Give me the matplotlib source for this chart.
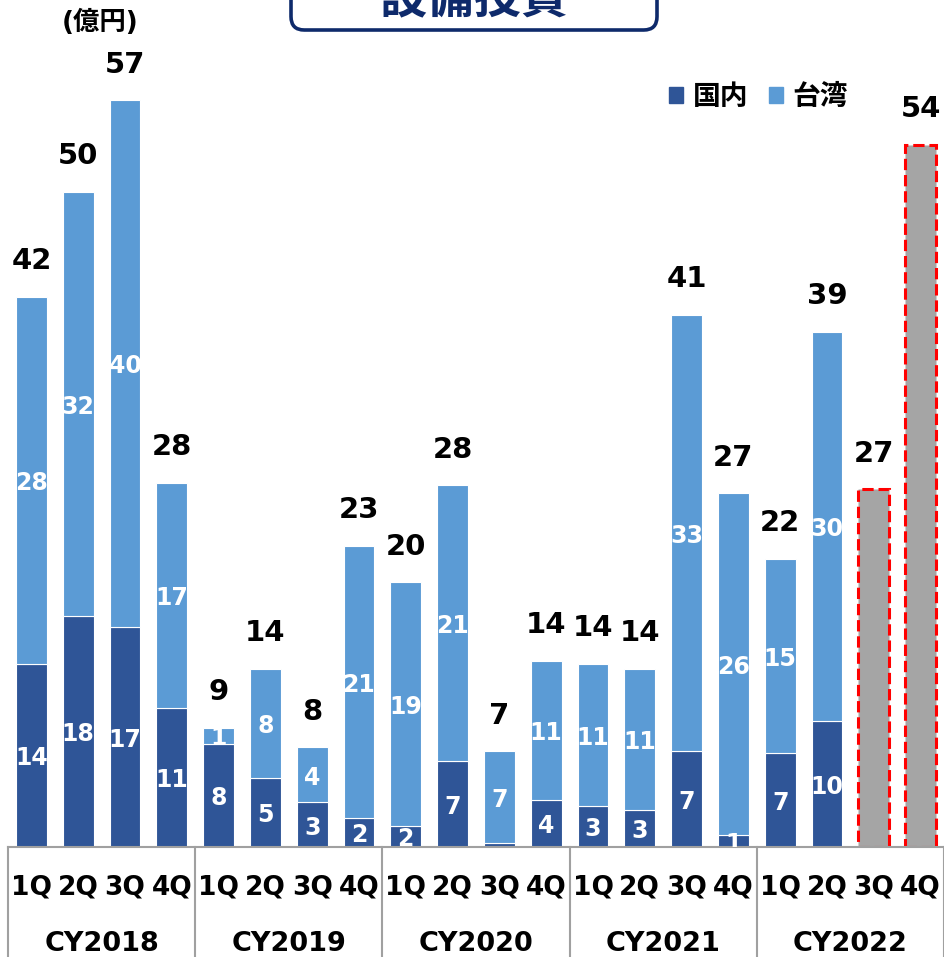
import matplotlib.pyplot as plt
from matplotlib.patches import FancyBboxPatch, Patch

plt.rcParams['font.family'] = ['DejaVu Sans', 'Noto Sans CJK JP']

# quarterly capex, 億円
quarters = ['1Q', '2Q', '3Q', '4Q'] * 5
years = ['CY2018', 'CY2019', 'CY2020', 'CY2021', 'CY2022']
domestic = [14.0, 17.6, 16.8, 10.6, 7.9, 5.3, 3.4, 2.2, 1.6, 6.6, 0.3, 3.6,
            3.1, 2.8, 7.3, 0.9, 7.2, 9.6]
taiwan = [28.0, 32.4, 40.2, 17.2, 1.2, 8.3, 4.2, 20.8, 18.6, 21.0, 7.0, 10.6,
          10.9, 10.8, 33.3, 26.1, 14.8, 29.7]
# 2022 3Q / 4Q plan (no split)
forecast = [27.3, 53.6]

DOM_COLOR = '#2F5597'
TW_COLOR = '#5B9BD5'
GRAY = '#A5A5A5'
NAVY = '#0E2A6B'
LINE = '#A0A0A0'

W, H = 945, 957
BASE = 847  # pixel row of the baseline

fig = plt.figure(figsize=(W / 100, H / 100), dpi=100)
ax = fig.add_axes([8 / W, (H - BASE) / H, 936 / W, BASE / H])

n = len(domestic)
x = list(range(n))
xf = list(range(n, n + len(forecast)))
bw = 0.66

ax.bar(x, domestic, bw, color=DOM_COLOR, edgecolor='white', linewidth=0.8)
ax.bar(x, taiwan, bw, bottom=domestic, color=TW_COLOR, edgecolor='white', linewidth=0.8)
ax.bar(xf, forecast, bw, color=GRAY, edgecolor='#FF0000', linewidth=2.2, linestyle='--')

ax.set_xlim(-0.5, n + len(forecast) - 0.5)
ax.set_ylim(0, BASE / 13.1)

# segment labels
for i in x:
    d, t = domestic[i], taiwan[i]
    if d >= 0.5:
        ax.annotate(f"{d:.0f}", (i, d / 2), xytext=(0, -2), textcoords='offset points',
                    ha='center', va='center', color='white', fontsize=17,
                    fontweight='bold', annotation_clip=False, clip_on=True)
    ax.annotate(f"{t:.0f}", (i, d + t / 2), xytext=(0, -2), textcoords='offset points',
                ha='center', va='center', color='white', fontsize=17,
                fontweight='bold', annotation_clip=False, clip_on=True)

totals = [d + t for d, t in zip(domestic, taiwan)] + forecast
for i, v in enumerate(totals):
    ax.annotate(f"{v:.0f}", (i, v), xytext=(0, 20), textcoords='offset points',
                ha='center', va='baseline', fontsize=21, fontweight='bold')

# hide axes, keep only the baseline
for s in ['top', 'left', 'right']:
    ax.spines[s].set_visible(False)
ax.spines['bottom'].set_color(LINE)
ax.spines['bottom'].set_linewidth(1.5)
ax.set_xticks([])
ax.set_yticks([])

# category table under the bars
def yfrac(ypx):
    return (BASE - ypx) / BASE

tr = ax.get_xaxis_transform()
for i, q in enumerate(quarters):
    ax.text(i, yfrac(887), q, transform=tr, ha='center', va='center',
            fontsize=19, fontweight='bold', clip_on=False)
for k, yr in enumerate(years):
    ax.text(4 * k + 1.5, yfrac(944), yr, transform=tr, ha='center', va='center',
            fontsize=19.5, fontweight='bold', clip_on=False)
for k in range(len(years) + 1):
    ax.plot([4 * k - 0.5] * 2, [0, yfrac(H + 5)], transform=tr, color=LINE,
            lw=1.5, clip_on=False)

# legend
handles = [Patch(color=DOM_COLOR, label='国内'), Patch(color=TW_COLOR, label='台湾')]
fig.legend(handles=handles, loc='center right', bbox_to_anchor=(848 / W, 1 - 97 / H),
           ncol=2, frameon=False, prop={'size': 20, 'weight': 'bold'},
           handlelength=0.5, handleheight=0.5, handletextpad=0.35,
           columnspacing=0.75, borderpad=0, borderaxespad=0)

# unit
fig.text(100 / W, 1 - 23 / H, '(億円)', ha='center', va='center', fontsize=19,
         fontweight='bold')

# title box (cut at the top edge)
fig.patches.append(FancyBboxPatch((291 / W, 1 - 30 / H), 366 / W, 0.1,
                                  boxstyle='round,pad=0,rounding_size=0.014',
                                  transform=fig.transFigure, facecolor='white',
                                  edgecolor=NAVY, linewidth=2.6))
fig.text(474 / W, 1 - 12 / H, '設備投資', ha='center', va='baseline', fontsize=34,
         fontweight='bold', color=NAVY)

fig.savefig('out.png', dpi=100)
